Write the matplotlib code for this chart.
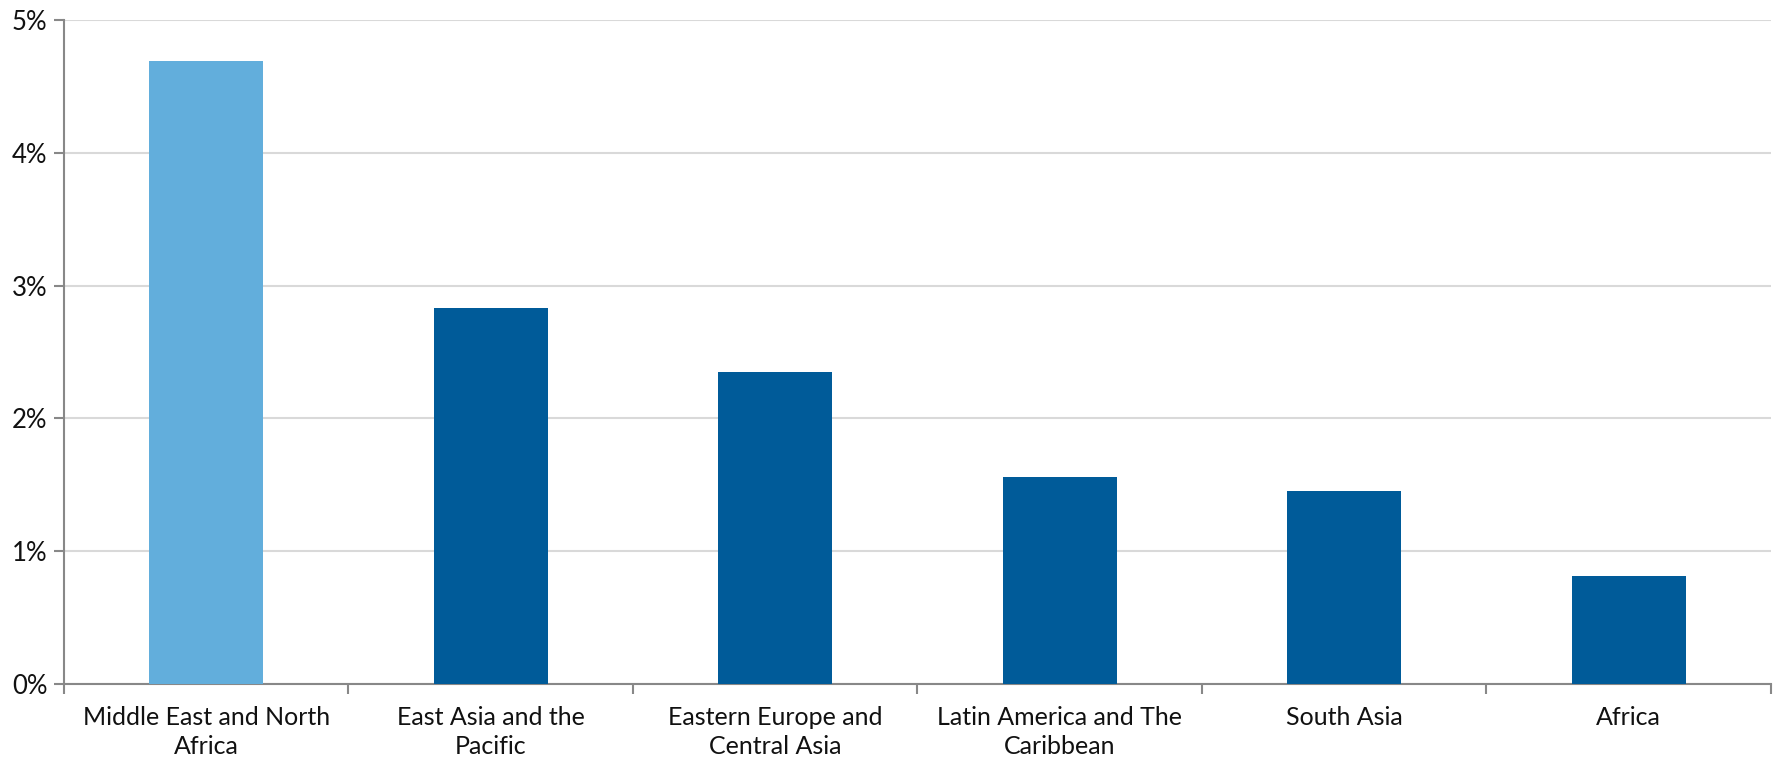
import matplotlib.pyplot as plt
from matplotlib.ticker import FuncFormatter, FixedLocator
import numpy as np

regions = ["Middle East and North\nAfrica", "East Asia and the\nPacific",
           "Eastern Europe and\nCentral Asia", "Latin America and The\nCaribbean",
           "South Asia", "Africa"]
values = [4.69, 2.83, 2.35, 1.56, 1.45, 0.81]
highlight = "Middle East and North\nAfrica"

plt.rcParams['font.family'] = ['Lato', 'DejaVu Sans']

fig = plt.figure(figsize=(17.77, 7.61), dpi=100)
ax = fig.add_axes([0.036, 0.1012, 0.9606, 0.8725])

x = np.arange(len(regions))
colors = ["#62aedc" if r == highlight else "#005b99" for r in regions]
ax.bar(x, values, width=0.4, color=colors, zorder=3)

ax.set_xlim(-0.5, len(regions) - 0.5)
ax.set_ylim(0, 5)
ax.set_yticks(range(0, 6))
ax.yaxis.set_major_formatter(FuncFormatter(lambda v, p: f"{v:.0f}%"))
ax.grid(axis='y', color='#d9d9d9', linewidth=1.5, zorder=0)

ax.set_xticks(x)
ax.set_xticklabels(regions, fontsize=18, color='#111111', linespacing=1.3)
ax.tick_params(axis='x', which='major', length=0, pad=16)
ax.xaxis.set_minor_locator(FixedLocator(np.arange(-0.5, len(regions), 1.0)))
ax.tick_params(axis='x', which='minor', length=7, width=1.5, color='#888888')
ax.tick_params(axis='y', length=7, width=1.5, color='#888888', labelsize=18.5,
               labelcolor='#111111', pad=5)

for side in ['top', 'right']:
    ax.spines[side].set_visible(False)
for side in ['left', 'bottom']:
    ax.spines[side].set_color('#888888')
    ax.spines[side].set_linewidth(1.5)

fig.savefig("out.png", dpi=100)
